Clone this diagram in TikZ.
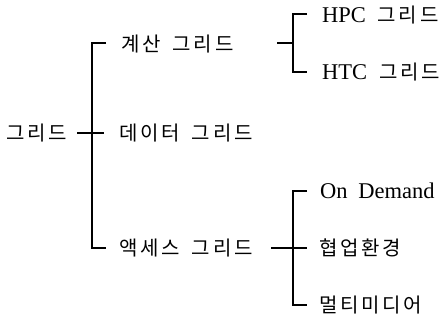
\documentclass[tikz,border=0pt]{standalone}
\usepackage{fontspec}
\setmainfont{Liberation Serif}
\newfontfamily\kr[LetterSpace=14]{Noto Sans CJK KR}
\newcommand{\kt}[1]{{\kr\fontsize{20bp}{22bp}\selectfont\spaceskip=12bp #1}}
\newcommand{\lt}[1]{{\fontsize{22.5bp}{24bp}\selectfont #1}}
\begin{document}
\begin{tikzpicture}[x=1bp,y=-1bp,
  lbl/.style={anchor=base west,inner sep=0pt,outer sep=0pt},
  br/.style={line width=1.4bp,line join=miter}]
\useasboundingbox (0,0) rectangle (448,320);
% labels
\node[lbl] (root) at (6,140.5) {\kt{그리드}};
\node[lbl] (calc) at (121,51.5) {\kt{계산 그리드}};
\node[lbl] (data) at (119,140.5) {\kt{데이터 그리드}};
\node[lbl] (acc) at (119,255.5) {\kt{액세스 그리드}};
\node[lbl] (hpc) at (322,22) {\lt{HPC}\hspace{12bp}\kt{그리드}};
\node[lbl] (htc) at (322,79) {\lt{HTC}\hspace{12bp}\kt{그리드}};
\node[lbl] (ond) at (320,198) {\lt{\spaceskip=11bp On Demand}};
\node[lbl] (collab) at (319,255.5) {\kt{협업환경}};
\node[lbl] (multi) at (319,312.5) {\kt{멀티미디어}};
% junction coordinates
\coordinate (rs) at (77,133);
\coordinate (re) at (104,133);
\coordinate (mt) at (92,43);
\coordinate (mb) at (92,248);
\coordinate (tt) at (106,43);
\coordinate (tb) at (106,248);
\coordinate (cs) at (277,43);
\coordinate (cj) at (293,43);
\coordinate (ct) at (293,14);
\coordinate (cb) at (293,72);
\coordinate (cte) at (307,14);
\coordinate (cbe) at (307,72);
\coordinate (as) at (271,248);
\coordinate (ae) at (307,248);
\coordinate (at3) at (293,191);
\coordinate (ab3) at (293,305);
\coordinate (ate) at (307,191);
\coordinate (abe) at (307,305);
% connectors
\draw[br] (tt) -- (mt) -- (mb) -- (tb);
\draw[br] (rs) -- (re);
\draw[br] (cs) -- (cj);
\draw[br] (cte) -- (ct) -- (cb) -- (cbe);
\draw[br] (as) -- (ae);
\draw[br] (ate) -- (at3) -- (ab3) -- (abe);
\end{tikzpicture}
\end{document}
